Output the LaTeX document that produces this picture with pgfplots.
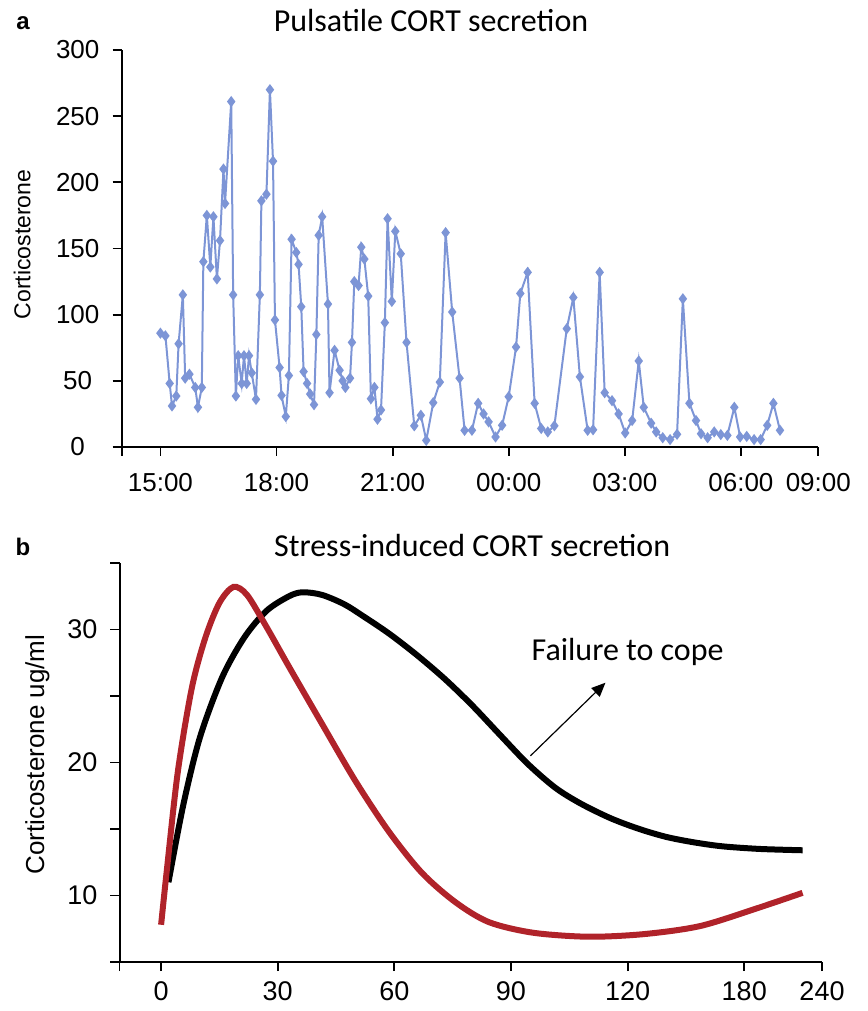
\documentclass[border=0pt]{standalone}
\usepackage{pgfplots}
\pgfplotsset{compat=1.18}
\usepackage{fontspec}
\setmainfont{Liberation Sans}
\newfontfamily\calibri{Carlito}
\usetikzlibrary{arrows.meta}
\definecolor{pblue}{HTML}{7D95D6}
\definecolor{cred}{HTML}{B0232A}
\begin{document}
\begin{tikzpicture}
\path[use as bounding box] (0,0) rectangle (433.5pt,505.5pt);
\pgfplotsset{
  base/.style={
    scale only axis,
    anchor=south west,
    axis x line*=bottom,
    axis y line*=left,
    axis line style={line width=1pt},
    tick style={line width=0.9pt,black},
    tick align=outside,
    major tick length=4.5pt,
    /pgf/number format/assume math mode=true,
    clip=false,
  }
}
% ---------------- panel a ----------------
\begin{axis}[base,
  at={(60.85pt,282pt)}, width=348.3pt, height=198.5pt,
  xmin=-1, xmax=17, ymin=0, ymax=300,
  xtick={-1,0,3,6,9,12,15,17},
  xticklabels={,15:00,18:00,21:00,00:00,03:00,06:00,09:00},
  ytick={0,50,...,300},
  tick label style={font=\fontsize{13}{15}\selectfont},
  xticklabel style={yshift=-5pt},
  yticklabel style={anchor=center, xshift=-17.5pt},
  ylabel={Corticosterone},
  ylabel style={at={(axis description cs:-0.143,0.51)},anchor=center,rotate=0,font=\fontsize{11.5}{13}\selectfont},
  title={\calibri Pulsatile CORT secretion},
  title style={at={(axis description cs:0.444,1.043)},anchor=center,yshift=0pt,font=\fontsize{16}{18}\selectfont},
]
\addplot[color=pblue, line width=1pt, mark=diamond*, mark size=2pt, mark options={fill=pblue,draw=pblue}] coordinates {
(0.00,86) (0.13,84) (0.24,48) (0.30,31) (0.41,38.5) (0.47,78) (0.58,115) (0.64,52) (0.75,55)
(0.90,45) (0.97,30) (1.07,45) (1.11,140) (1.20,175) (1.29,136) (1.37,174) (1.46,127) (1.54,156)
(1.63,210) (1.67,184) (1.83,261) (1.88,115) (1.95,38.5) (2.01,69) (2.10,48) (2.16,69) (2.23,48)
(2.29,69) (2.36,56) (2.47,36) (2.57,115) (2.61,186) (2.74,191) (2.83,270) (2.91,216) (2.96,96)
(3.08,60) (3.13,39) (3.24,23) (3.32,54) (3.39,157) (3.51,147) (3.57,138) (3.64,106) (3.70,57)
(3.79,48) (3.87,40) (3.97,32) (4.03,85) (4.09,160) (4.18,174) (4.33,108) (4.37,41) (4.50,73)
(4.63,58) (4.71,50) (4.78,45) (4.90,52) (4.95,79) (5.01,125) (5.12,122) (5.19,151) (5.27,142)
(5.37,114) (5.44,36.5) (5.53,45) (5.61,21) (5.70,28) (5.80,94) (5.87,172.5) (5.98,110) (6.07,163)
(6.21,146) (6.36,79) (6.56,16) (6.73,24) (6.87,5) (7.05,33.5) (7.22,49) (7.37,162) (7.54,102)
(7.73,52) (7.86,12.6) (8.05,12.6) (8.21,33) (8.35,25) (8.48,19) (8.66,7.6) (8.83,16.4) (9.00,38)
(9.19,75.5) (9.30,116) (9.49,132) (9.67,33) (9.84,14) (10.01,11.4) (10.18,16) (10.50,89.4)
(10.67,113) (10.84,53) (11.04,12.6) (11.18,13) (11.35,132) (11.48,41) (11.67,35) (11.84,25)
(12.01,10.6) (12.19,20) (12.36,65) (12.49,30) (12.68,18) (12.81,11.4) (12.98,7) (13.17,5.6)
(13.35,9.6) (13.50,112) (13.67,33) (13.84,20) (13.97,10) (14.14,7) (14.31,11.4) (14.48,9.4)
(14.65,8.8) (14.83,30) (14.98,7.6) (15.15,8) (15.34,5.6) (15.51,5.6) (15.68,16.4) (15.84,33)
(16.01,12.6)
};
\end{axis}
% ---------------- panel b ----------------
\begin{axis}[base,
  at={(59.75pt,24.5pt)}, width=351.25pt, height=199.5pt,
  xmin=-10.7, xmax=170, ymin=5, ymax=35,
  xtick={-10.7,0,30,60,90,120,150,170},
  xticklabels={,0,30,60,90,120,180,240},
  ytick={5,10,...,35},
  yticklabels={,10,,20,,30,},
  tick label style={font=\fontsize{13.5}{15}\selectfont},
  xticklabel style={yshift=-2pt},
  yticklabel style={anchor=center, xshift=-14pt},
  ylabel={Corticosterone ug/ml},
  ylabel style={at={(axis description cs:-0.117,0.52)},anchor=center,rotate=0,font=\fontsize{13}{15}\selectfont},
  title={\calibri Stress-induced CORT secretion},
  title style={at={(axis description cs:0.502,1.015)},anchor=center,yshift=0pt,font=\fontsize{16}{18}\selectfont},
]
\addplot[black, line width=3pt, smooth, tension=0.5] coordinates {
(1.9,11.0) (5.7,16.8) (10,21.9) (15.7,26.4) (21.4,29.4) (27.1,31.4) (32.9,32.5) (36.4,32.8)
(41.4,32.6) (47.1,31.9) (52,31.0) (58.6,29.7) (65.7,28.1) (72.9,26.3) (80,24.3) (87.1,22.1)
(94.3,19.9) (101.4,18.1) (108,16.9) (115.7,15.8) (123,15.0) (130,14.4) (137,14.0) (144.3,13.7)
(154,13.5) (165,13.4)
};
\addplot[cred, line width=3pt, smooth, tension=0.5] coordinates {
(0,7.8) (1.4,11.7) (4.3,19.3) (7.9,25.6) (11.4,29.4) (15,32) (18.6,33.2) (22.1,32.6)
(27.1,30.2) (32.9,27.2) (41.4,22.9) (50,18.6) (58.6,14.8) (67.1,11.7) (75.7,9.5) (84.3,8.0)
(95.7,7.2) (110,6.9) (124.3,7.1) (138.6,7.7) (152.9,9.0) (165,10.2)
};
\draw[line width=0.6pt, -{Triangle[length=7pt,width=6pt]}] (axis cs:95,20.5) -- (axis cs:114.3,26);
\node[font=\calibri\fontsize{16}{18}\selectfont] at (axis cs:120,28.3) {Failure to cope};
\end{axis}
\node[font=\bfseries\fontsize{12}{14}\selectfont] at (11.5pt,494pt) {a};
\node[font=\bfseries\fontsize{12}{14}\selectfont] at (11.5pt,232pt) {b};
\end{tikzpicture}
\end{document}
